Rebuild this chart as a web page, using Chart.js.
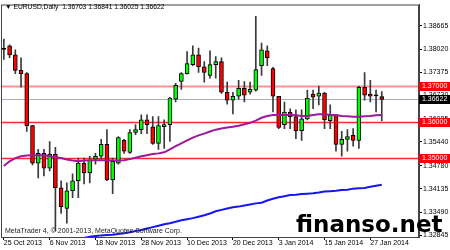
<!DOCTYPE html>
<html>
<head>
<meta charset="utf-8">
<script src="https://cdn.jsdelivr.net/npm/chart.js@4"></script>
<style>
  html, body { margin: 0; padding: 0; background: #fff; }
  canvas { display: block; }
</style>
</head>
<body>
<canvas id="chart" width="450" height="250"></canvas>
<script>
// EURUSD daily bars, 25 Oct 2013 .. 29 Jan 2014
const dates = [
  '25 Oct 2013', '28 Oct 2013', '29 Oct 2013', '30 Oct 2013', '31 Oct 2013', '1 Nov 2013', '4 Nov 2013', '5 Nov 2013',
  '6 Nov 2013', '7 Nov 2013', '8 Nov 2013', '11 Nov 2013', '12 Nov 2013', '13 Nov 2013', '14 Nov 2013', '15 Nov 2013',
  '18 Nov 2013', '19 Nov 2013', '20 Nov 2013', '21 Nov 2013', '22 Nov 2013', '25 Nov 2013', '26 Nov 2013', '27 Nov 2013',
  '28 Nov 2013', '29 Nov 2013', '2 Dec 2013', '3 Dec 2013', '4 Dec 2013', '5 Dec 2013', '6 Dec 2013', '9 Dec 2013',
  '10 Dec 2013', '11 Dec 2013', '12 Dec 2013', '13 Dec 2013', '16 Dec 2013', '17 Dec 2013', '18 Dec 2013', '19 Dec 2013',
  '20 Dec 2013', '23 Dec 2013', '24 Dec 2013', '26 Dec 2013', '27 Dec 2013', '30 Dec 2013', '31 Dec 2013', '2 Jan 2014',
  '3 Jan 2014', '6 Jan 2014', '7 Jan 2014', '8 Jan 2014', '9 Jan 2014', '10 Jan 2014', '13 Jan 2014', '14 Jan 2014',
  '15 Jan 2014', '16 Jan 2014', '17 Jan 2014', '20 Jan 2014', '21 Jan 2014', '22 Jan 2014', '23 Jan 2014', '24 Jan 2014',
  '27 Jan 2014', '28 Jan 2014', '29 Jan 2014'
];

const opens = [
  1.3801, 1.3811, 1.3786, 1.3743, 1.3734, 1.3589, 1.3485, 1.3512, 1.3471, 1.3510,
  1.3416, 1.3359, 1.3408, 1.3436, 1.3485, 1.3458, 1.3496, 1.3504, 1.3537, 1.3438,
  1.3485, 1.3548, 1.3515, 1.3570, 1.3578, 1.3605, 1.3586, 1.3540, 1.3586, 1.3592,
  1.3663, 1.3712, 1.3734, 1.3759, 1.3786, 1.3753, 1.3729, 1.3759, 1.3767, 1.3682,
  1.3660, 1.3671, 1.3693, 1.3682, 1.3688, 1.3756, 1.3797, 1.3748, 1.3671, 1.3592,
  1.3627, 1.3614, 1.3575, 1.3608, 1.3677, 1.3671, 1.3680, 1.3603, 1.3619, 1.3537,
  1.3551, 1.3562, 1.3548, 1.3696, 1.3677, 1.3672, 1.36703
];
const highs = [
  1.3830, 1.3814, 1.3800, 1.3778, 1.3737, 1.3590, 1.3523, 1.3523, 1.3545, 1.3529,
  1.3436, 1.3430, 1.3455, 1.3499, 1.3499, 1.3504, 1.3512, 1.3551, 1.3578, 1.3499,
  1.3559, 1.3551, 1.3578, 1.3592, 1.3619, 1.3619, 1.3614, 1.3614, 1.3605, 1.3668,
  1.3707, 1.3737, 1.3795, 1.3811, 1.3805, 1.3767, 1.3797, 1.3781, 1.3778, 1.3710,
  1.3682, 1.3715, 1.3712, 1.3710, 1.3893, 1.3819, 1.3811, 1.3751, 1.3671, 1.3655,
  1.3636, 1.3633, 1.3633, 1.3688, 1.3688, 1.3699, 1.3682, 1.3647, 1.3619, 1.3573,
  1.3578, 1.3581, 1.3699, 1.3737, 1.3715, 1.3688, 1.36841
];
const lows = [
  1.3773, 1.3778, 1.3734, 1.3696, 1.3573, 1.3480, 1.3444, 1.3449, 1.3463, 1.3296,
  1.3345, 1.3318, 1.3389, 1.3389, 1.3427, 1.3430, 1.3482, 1.3496, 1.3436, 1.3400,
  1.3482, 1.3512, 1.3512, 1.3564, 1.3567, 1.3567, 1.3537, 1.3523, 1.3526, 1.3545,
  1.3655, 1.3690, 1.3732, 1.3756, 1.3737, 1.3710, 1.3721, 1.3721, 1.3679, 1.3649,
  1.3622, 1.3663, 1.3655, 1.3677, 1.3685, 1.3729, 1.3756, 1.3627, 1.3581, 1.3581,
  1.3581, 1.3553, 1.3548, 1.3605, 1.3636, 1.3647, 1.3581, 1.3581, 1.3518, 1.3504,
  1.3518, 1.3532, 1.3526, 1.3660, 1.3655, 1.3627, 1.36025
];
const closes = [
  1.3801, 1.3786, 1.3743, 1.3734, 1.3589, 1.3485, 1.3512, 1.3471, 1.3510, 1.3416,
  1.3364, 1.3408, 1.3436, 1.3485, 1.3458, 1.3493, 1.3504, 1.3537, 1.3438, 1.3490,
  1.3556, 1.3518, 1.3570, 1.3578, 1.3605, 1.3592, 1.3540, 1.3589, 1.3592, 1.3666,
  1.3701, 1.3734, 1.3762, 1.3786, 1.3753, 1.3737, 1.3759, 1.3767, 1.3682, 1.3660,
  1.3671, 1.3693, 1.3674, 1.3690, 1.3745, 1.3800, 1.3778, 1.3671, 1.3584, 1.3627,
  1.3614, 1.3575, 1.3608, 1.3666, 1.3668, 1.3680, 1.3606, 1.3619, 1.3537, 1.3551,
  1.3559, 1.3548, 1.3696, 1.3674, 1.3671, 1.3672, 1.36622
];

// moving averages (purple = fast, blue = slow)
const maFast = [
  1.3477, 1.3490, 1.3499, 1.3504, 1.3506, 1.3507, 1.3507, 1.3507, 1.3504, 1.3501,
  1.3499, 1.3495, 1.3492, 1.3490, 1.3492, 1.3493, 1.3493, 1.3493, 1.3493, 1.3492,
  1.3492, 1.3493, 1.3496, 1.3500, 1.3504, 1.3507, 1.3510, 1.3512, 1.3515, 1.3523,
  1.3532, 1.3540, 1.3548, 1.3556, 1.3562, 1.3567, 1.3573, 1.3578, 1.3581, 1.3584,
  1.3586, 1.3589, 1.3593, 1.3597, 1.3603, 1.3611, 1.3616, 1.3619, 1.3619, 1.3619,
  1.3619, 1.3618, 1.3616, 1.3616, 1.3619, 1.3621, 1.3621, 1.3619, 1.3619, 1.3616,
  1.3615, 1.3614, 1.3614, 1.3615, 1.3616, 1.3618, 1.3619
];
const maSlow = [
  null, null, null, null, null, null, null, null, null, null,
  null, null, 1.3271, 1.3274, 1.3277, 1.3280, 1.3282, 1.3284, 1.3285, 1.3286,
  1.3288, 1.3290, 1.3293, 1.3296, 1.3299, 1.3303, 1.3307, 1.3311, 1.3315, 1.3318,
  1.3322, 1.3326, 1.3329, 1.3332, 1.3336, 1.3340, 1.3345, 1.3351, 1.3355, 1.3359,
  1.3362, 1.3364, 1.3367, 1.3370, 1.3373, 1.3375, 1.3381, 1.3386, 1.3390, 1.3393,
  1.3396, 1.3397, 1.3399, 1.3400, 1.3401, 1.3403, 1.3406, 1.3407, 1.3408, 1.3410,
  1.3411, 1.3414, 1.3415, 1.3416, 1.3419, 1.3422, 1.3425
];

const yTicks = [1.38665, 1.38020, 1.37375, 1.36730, 1.36085, 1.35440, 1.34780, 1.34135, 1.33490, 1.32845];
const levels = [1.37, 1.36, 1.35];
const lastPrice = closes[closes.length - 1];
const emptySlots = 6; // chart shift on the right

const labels = dates.concat(new Array(emptySlots).fill(''));
const font7 = { family: '"Liberation Sans", Arial, "DejaVu Sans", sans-serif', size: 7, lineHeight: 1 };

const bodyColor = opens.map((o, i) => closes[i] > o ? '#00ff00' : (closes[i] < o ? '#ff0000' : '#000000'));

const overlay = {
  id: 'overlay',
  beforeDatasetsDraw(chart) {
    const { ctx, chartArea: a, scales: { y } } = chart;
    ctx.save();
    ctx.beginPath();
    ctx.rect(a.left, a.top, a.right - a.left, a.bottom - a.top);
    ctx.clip();
    // current bid line
    let py = Math.round(y.getPixelForValue(lastPrice)) + 0.5;
    ctx.strokeStyle = '#a7afc0';
    ctx.lineWidth = 1;
    ctx.beginPath(); ctx.moveTo(a.left, py); ctx.lineTo(a.right, py); ctx.stroke();
    levels.forEach((lv, i) => {
      const ly = Math.round(y.getPixelForValue(lv)) + 0.5;
      ctx.strokeStyle = i === 0 ? 'rgba(255,110,110,0.75)' : 'rgba(255,30,30,0.95)';
      ctx.lineWidth = i === 0 ? 2 : 1.4;
      ctx.beginPath(); ctx.moveTo(a.left, ly); ctx.lineTo(a.right, ly); ctx.stroke();
    });
    ctx.restore();
  },
  afterDraw(chart) {
    const { ctx, chartArea: a, scales: { y } } = chart;
    ctx.save();
    // frame
    ctx.strokeStyle = '#444';
    ctx.lineWidth = 1;
    ctx.strokeRect(a.left + 0.5, a.top + 0.5, a.right - a.left - 1, a.bottom - a.top);

    ctx.textBaseline = 'middle';
    ctx.textAlign = 'left';
    // header
    const n = opens.length - 1;
    const head = [opens[n], highs[n], lows[n], closes[n]].map(v => v.toFixed(5)).join(' ');
    ctx.font = '6.7px "Liberation Sans", Arial, "DejaVu Sans", sans-serif';
    ctx.fillStyle = '#000';
    ctx.fillText('\u25BC EURUSD,Daily  ' + head, 5, 7);
    // footer
    ctx.font = '7px "Liberation Sans", Arial, "DejaVu Sans", sans-serif';
    ctx.fillStyle = '#222';
    ctx.fillText('MetaTrader 4, \u00A9 2001-2013, MetaQuotes Software Corp.', 5, 231);

    // price labels on the right axis
    const box = (val, color) => {
      const by = Math.round(y.getPixelForValue(val));
      ctx.fillStyle = color;
      ctx.fillRect(a.right, by - 4, chart.width - a.right, 9);
      ctx.fillStyle = '#fff';
      ctx.fillText(val.toFixed(5), a.right + 3, by + 0.5);
    };
    levels.forEach(lv => box(lv, '#ff0000'));
    box(lastPrice, '#000');

    // watermark
    ctx.font = 'bold 23px "DejaVu Sans", sans-serif';
    ctx.textBaseline = 'alphabetic';
    ctx.fillStyle = '#000';
    ctx.fillText('finanso.net', 296, 232);
    ctx.restore();
  }
};

new Chart(document.getElementById('chart').getContext('2d'), {
  type: 'bar',
  data: {
    labels: labels,
    datasets: [
      {
        type: 'line',
        data: maFast,
        borderColor: '#9a1a9a',
        borderWidth: 2,
        pointRadius: 0,
        tension: 0,
        clip: 0,
        order: 0
      },
      {
        type: 'line',
        data: maSlow,
        borderColor: '#1515f5',
        borderWidth: 2,
        pointRadius: 0,
        tension: 0,
        clip: 0,
        order: 0
      },
      {
        data: opens.map((o, i) => [o, closes[i]]),
        backgroundColor: bodyColor,
        borderColor: '#000',
        borderWidth: 1,
        borderSkipped: false,
        barThickness: 4,
        minBarLength: 1,
        grouped: false,
        order: 1
      },
      {
        data: lows.map((l, i) => [l, highs[i]]),
        backgroundColor: '#3a3a3a',
        barThickness: 1,
        grouped: false,
        order: 2
      }
    ]
  },
  options: {
    responsive: false,
    animation: false,
    layout: { padding: { left: 1, top: 1, right: 0, bottom: 0 } },
    plugins: { legend: { display: false }, tooltip: { enabled: false } },
    scales: {
      x: {
        type: 'category',
        offset: true,
        afterBuildTicks: (axis) => {
          axis.ticks = axis.ticks.filter(t => t.value % 8 === 0 && t.value < dates.length);
        },
        afterFit: (scale) => { scale.height = 13; },
        ticks: {
          autoSkip: false,
          maxRotation: 0,
          minRotation: 0,
          align: 'start',
          padding: 0,
          color: '#000',
          font: font7,
          callback: function (v) { return this.getLabelForValue(v); }
        },
        grid: { drawOnChartArea: false, offset: false, tickLength: 3, color: '#000' },
        border: { display: true, color: '#444' }
      },
      y: {
        position: 'right',
        min: 1.32795,
        max: 1.39260,
        afterBuildTicks: (axis) => {
          axis.ticks = yTicks.map(v => ({ value: v }));
        },
        afterFit: (scale) => { scale.width = 31; },
        ticks: {
          autoSkip: false,
          padding: 1,
          color: '#000',
          font: font7,
          callback: (v) => Number(v).toFixed(5)
        },
        grid: { drawOnChartArea: false, tickLength: 3, color: '#000' },
        border: { display: true, color: '#444' }
      }
    }
  },
  plugins: [overlay]
});
</script>
</body>
</html>
